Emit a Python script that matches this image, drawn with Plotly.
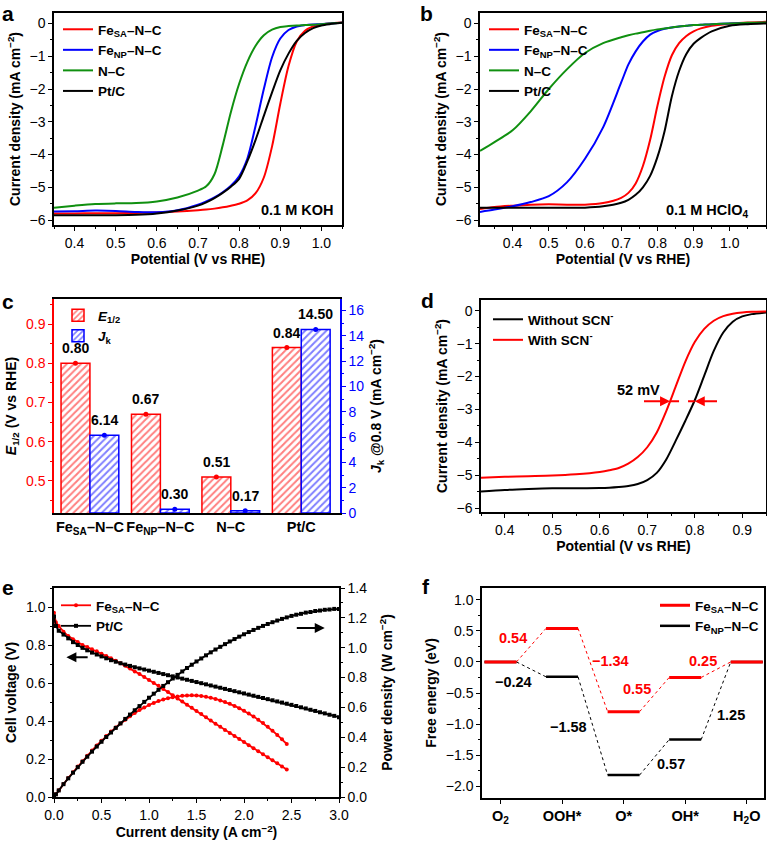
import plotly.graph_objects as go

FONT = "Liberation Sans, Arial, sans-serif"
W, H = 767, 843
RED, BLUE, GREEN, BLACK = "#FF0000", "#0000FF", "#109010", "#000000"

# ---------------- data ----------------
# panel a : ORR polarisation, 0.1 M KOH
a_potential = [0.35, 0.40, 0.45, 0.50, 0.55, 0.60, 0.65, 0.70, 0.72, 0.74, 0.76, 0.78, 0.80,
               0.82, 0.84, 0.86, 0.88, 0.90, 0.92, 0.94, 0.96, 0.98, 1.00, 1.02, 1.05]
a_fesa = [-5.80, -5.80, -5.79, -5.79, -5.78, -5.77, -5.74, -5.70, -5.68, -5.65, -5.61, -5.56, -5.50,
          -5.40, -5.18, -4.70, -3.75, -2.45, -1.30, -0.55, -0.22, -0.09, -0.03, 0.00, 0.03]
a_fenp = [-5.74, -5.73, -5.71, -5.72, -5.75, -5.76, -5.70, -5.53, -5.43, -5.31, -5.15, -4.95, -4.66,
          -4.12, -3.12, -2.00, -1.03, -0.46, -0.20, -0.09, -0.05, -0.03, -0.02, 0.00, 0.02]
a_nc = [-5.62, -5.56, -5.51, -5.49, -5.48, -5.43, -5.31, -5.10, -4.97, -4.60, -3.72, -2.70, -1.84,
        -1.17, -0.68, -0.36, -0.19, -0.11, -0.08, -0.06, -0.05, -0.04, -0.02, 0.00, 0.02]
a_ptc = [-5.85, -5.85, -5.85, -5.85, -5.84, -5.80, -5.71, -5.56, -5.46, -5.33, -5.17, -4.98, -4.74,
         -4.20, -3.55, -2.82, -2.10, -1.43, -0.92, -0.53, -0.29, -0.14, -0.06, -0.02, 0.02]
a_ticks = [0.4, 0.5, 0.6, 0.7, 0.8, 0.9, 1.0]

# panel b : ORR polarisation, 0.1 M HClO4
b_potential = [0.31, 0.35, 0.40, 0.45, 0.50, 0.55, 0.60, 0.65, 0.70, 0.72, 0.74, 0.76, 0.78, 0.80,
               0.82, 0.84, 0.86, 0.88, 0.90, 0.92, 0.95, 1.00, 1.05, 1.10]
b_fesa = [-5.66, -5.60, -5.56, -5.53, -5.52, -5.53, -5.53, -5.48, -5.32, -5.17, -4.88, -4.35, -3.55, -2.52,
          -1.62, -0.97, -0.60, -0.38, -0.24, -0.15, -0.07, -0.01, 0.03, 0.05]
b_fenp = [-5.75, -5.68, -5.58, -5.45, -5.27, -4.85, -4.13, -3.17, -1.80, -1.25, -0.85, -0.55, -0.34, -0.23,
          -0.16, -0.12, -0.09, -0.07, -0.05, -0.04, -0.02, 0.00, 0.01, 0.02]
b_nc = [-3.89, -3.62, -3.26, -2.68, -2.00, -1.40, -0.90, -0.60, -0.42, -0.36, -0.31, -0.27, -0.22, -0.18,
        -0.15, -0.12, -0.09, -0.07, -0.05, -0.04, -0.02, 0.00, 0.02, 0.03]
b_ptc = [-5.62, -5.62, -5.62, -5.62, -5.62, -5.62, -5.62, -5.58, -5.47, -5.38, -5.23, -5.00, -4.65, -4.08,
         -3.28, -2.22, -1.45, -0.93, -0.62, -0.44, -0.24, -0.07, -0.02, 0.00]
b_ticks = [0.4, 0.5, 0.6, 0.7, 0.8, 0.9, 1.0]

# panel c : half-wave potentials and kinetic current densities
c_categories = ["<b>Fe<sub>SA</sub>–N–C</b>", "<b>Fe<sub>NP</sub>–N–C</b>", "<b>N–C</b>", "<b>Pt/C</b>"]
c_e_half = [0.80, 0.67, 0.51, 0.84]
c_jk = [6.14, 0.30, 0.17, 14.50]
c_e_labels = ["0.80", "0.67", "0.51", "0.84"]
c_jk_labels = ["6.14", "0.30", "0.17", "14.50"]

# panel d : SCN- poisoning
d_potential = [0.35, 0.40, 0.45, 0.50, 0.55, 0.60, 0.62, 0.64, 0.66, 0.68, 0.70, 0.72, 0.74, 0.76,
               0.78, 0.80, 0.82, 0.84, 0.86, 0.88, 0.90, 0.92, 0.95]
d_without = [-5.50, -5.45, -5.42, -5.40, -5.40, -5.39, -5.38, -5.36, -5.33, -5.27, -5.15, -4.93, -4.52, -3.95,
             -3.35, -2.72, -1.97, -1.22, -0.66, -0.33, -0.17, -0.10, -0.05]
d_with = [-5.08, -5.05, -5.03, -5.01, -4.97, -4.90, -4.85, -4.78, -4.65, -4.45, -4.15, -3.70, -3.05, -2.30,
          -1.55, -0.95, -0.55, -0.30, -0.16, -0.09, -0.05, -0.03, -0.02]
d_half_wave = [0.748, 0.800]     # with / without SCN-
d_marker_level = -2.75

# panel e : fuel-cell polarisation and power density
e_current_sa = [0, 0.02, 0.05, 0.10, 0.15, 0.20, 0.25, 0.30, 0.35, 0.40, 0.45, 0.50, 0.55, 0.60, 0.65,
                0.70, 0.75, 0.80, 0.85, 0.90, 0.95, 1.00, 1.05, 1.10, 1.15, 1.20, 1.25, 1.30, 1.35, 1.40,
                1.45, 1.50, 1.55, 1.60, 1.65, 1.70, 1.75, 1.80, 1.85, 1.90, 1.95, 2.00, 2.05, 2.10, 2.15,
                2.20, 2.25, 2.30, 2.35, 2.40, 2.45]
e_voltage_sa = [0.97, 0.92, 0.90, 0.87, 0.847, 0.83, 0.816, 0.80, 0.789, 0.778, 0.767, 0.754, 0.742, 0.73,
                0.717, 0.704, 0.691, 0.676, 0.661, 0.647, 0.632, 0.616, 0.60, 0.585, 0.568, 0.552, 0.535,
                0.518, 0.502, 0.486, 0.47, 0.453, 0.437, 0.42, 0.403, 0.386, 0.37, 0.353, 0.337, 0.321,
                0.305, 0.289, 0.273, 0.257, 0.241, 0.225, 0.209, 0.193, 0.177, 0.161, 0.145]
e_power_sa = [0, 0.018, 0.045, 0.087, 0.127, 0.166, 0.204, 0.240, 0.276, 0.311, 0.345, 0.377, 0.408, 0.438,
              0.466, 0.493, 0.518, 0.541, 0.562, 0.582, 0.600, 0.616, 0.630, 0.643, 0.653, 0.662, 0.669,
              0.674, 0.678, 0.680, 0.681, 0.680, 0.677, 0.672, 0.665, 0.657, 0.647, 0.636, 0.624, 0.610,
              0.595, 0.578, 0.559, 0.540, 0.518, 0.495, 0.470, 0.444, 0.416, 0.387, 0.355]
e_current_pt = [0, 0.02, 0.05, 0.10, 0.15, 0.20, 0.25, 0.30, 0.35, 0.40, 0.45, 0.50, 0.55, 0.60, 0.65,
                0.70, 0.75, 0.80, 0.85, 0.90, 0.95, 1.00, 1.05, 1.10, 1.15, 1.20, 1.25, 1.30, 1.35, 1.40,
                1.45, 1.50, 1.55, 1.60, 1.65, 1.70, 1.75, 1.80, 1.85, 1.90, 1.95, 2.00, 2.05, 2.10, 2.15,
                2.20, 2.25, 2.30, 2.35, 2.40, 2.45, 2.50, 2.55, 2.60, 2.65, 2.70, 2.75, 2.80, 2.85, 2.90,
                2.95, 3.00]
e_voltage_pt = [0.95, 0.90, 0.875, 0.855, 0.835, 0.815, 0.80, 0.785, 0.772, 0.76, 0.75, 0.74, 0.73, 0.72,
                0.712, 0.704, 0.697, 0.69, 0.683, 0.677, 0.671, 0.665, 0.659, 0.653, 0.647, 0.641, 0.635,
                0.629, 0.623, 0.617, 0.611, 0.605, 0.599, 0.593, 0.587, 0.581, 0.575, 0.569, 0.563, 0.557,
                0.551, 0.545, 0.539, 0.533, 0.527, 0.521, 0.515, 0.509, 0.503, 0.497, 0.491, 0.485, 0.479,
                0.472, 0.466, 0.459, 0.453, 0.446, 0.440, 0.433, 0.427, 0.420]
e_power_pt = [0, 0.018, 0.044, 0.086, 0.125, 0.163, 0.200, 0.236, 0.270, 0.304, 0.338, 0.370, 0.402, 0.432,
              0.463, 0.493, 0.523, 0.552, 0.581, 0.609, 0.637, 0.665, 0.692, 0.718, 0.744, 0.769, 0.794,
              0.818, 0.841, 0.864, 0.886, 0.908, 0.928, 0.949, 0.969, 0.988, 1.006, 1.024, 1.042, 1.058,
              1.074, 1.090, 1.105, 1.119, 1.133, 1.146, 1.159, 1.171, 1.182, 1.193, 1.203, 1.213, 1.221,
              1.227, 1.235, 1.239, 1.246, 1.249, 1.254, 1.256, 1.260, 1.260]

# panel f : free-energy diagram
f_steps = ["<b>O<sub>2</sub></b>", "<b>OOH*</b>", "<b>O*</b>", "<b>OH*</b>", "<b>H<sub>2</sub>O</b>"]
f_fesa = [0.0, 0.54, -0.80, -0.25, 0.0]
f_fenp = [0.0, -0.24, -1.82, -1.25, 0.0]
f_fesa_dg = ["0.54", "−1.34", "0.55", "0.25"]
f_fenp_dg = ["−0.24", "−1.58", "0.57", "1.25"]

# ---------------- helpers ----------------
def dx(l, r):
    return [l / W, r / W]


def dy(t, b):
    return [1 - b / H, 1 - t / H]


TS = 14          # tick label size
TTS = 14         # axis title size
TICKFONT = dict(family=FONT, size=TS, color="black")
TITLEFONT = dict(family=FONT, size=TTS, color="black")


def axis(**kw):
    base = dict(showline=True, linecolor="black", linewidth=1.5, mirror=True, automargin=False,
                ticks="outside", ticklen=4, tickwidth=1.2, tickcolor="black",
                showgrid=False, zeroline=False, tickfont=TICKFONT, title_font=TITLEFONT)
    base.update(kw)
    return base


def minor(dt, col="black"):
    return dict(ticks="outside", ticklen=2, dtick=dt, tickcolor=col)


fig = go.Figure()

# ---- a ----
for name, ys, col in [("<b>Fe<sub>SA</sub>–N–C</b>", a_fesa, RED), ("<b>Fe<sub>NP</sub>–N–C</b>", a_fenp, BLUE),
                      ("<b>N–C</b>", a_nc, GREEN), ("<b>Pt/C</b>", a_ptc, BLACK)]:
    fig.add_trace(go.Scatter(x=a_potential, y=ys, name=name, mode="lines", xaxis="x", yaxis="y",
                             line=dict(color=col, width=2, shape="spline", smoothing=0.8), legend="legend"))
# ---- b ----
for name, ys, col in [("<b>Fe<sub>SA</sub>–N–C</b>", b_fesa, RED), ("<b>Fe<sub>NP</sub>–N–C</b>", b_fenp, BLUE),
                      ("<b>N–C</b>", b_nc, GREEN), ("<b>Pt/C</b>", b_ptc, BLACK)]:
    fig.add_trace(go.Scatter(x=b_potential, y=ys, name=name, mode="lines", xaxis="x2", yaxis="y2",
                             line=dict(color=col, width=2, shape="spline", smoothing=0.8), legend="legend2"))
# ---- c ----
cx = list(range(len(c_categories)))
fig.add_trace(go.Bar(x=cx, y=c_e_half, offset=-0.41, width=0.41, xaxis="x3", yaxis="y3",
                     name="<b><i>E</i><sub>1/2</sub></b>", legend="legend3",
                     marker=dict(color="white", line=dict(color=RED, width=1.5),
                                 pattern=dict(shape="/", fgcolor=RED, bgcolor="white", size=5,
                                              solidity=0.4, fillmode="overlay"))))
fig.add_trace(go.Bar(x=cx, y=c_jk, offset=0, width=0.41, xaxis="x3", yaxis="y4",
                     name="<b><i>J</i><sub>k</sub></b>", legend="legend3",
                     marker=dict(color="white", line=dict(color=BLUE, width=1.5),
                                 pattern=dict(shape="/", fgcolor=BLUE, bgcolor="white", size=5,
                                              solidity=0.4, fillmode="overlay"))))
fig.add_trace(go.Scatter(x=[i - 0.205 for i in cx], y=c_e_half, mode="markers", xaxis="x3", yaxis="y3",
                         marker=dict(color=RED, size=5), showlegend=False))
fig.add_trace(go.Scatter(x=[i + 0.205 for i in cx], y=c_jk, mode="markers", xaxis="x3", yaxis="y4",
                         marker=dict(color=BLUE, size=5), showlegend=False))
# ---- d ----
fig.add_trace(go.Scatter(x=d_potential, y=d_without, name="<b>Without SCN<sup>-</sup></b>", mode="lines",
                         xaxis="x4", yaxis="y5", legend="legend4",
                         line=dict(color=BLACK, width=2, shape="spline", smoothing=0.8)))
fig.add_trace(go.Scatter(x=d_potential, y=d_with, name="<b>With SCN<sup>-</sup></b>", mode="lines",
                         xaxis="x4", yaxis="y5", legend="legend4",
                         line=dict(color=RED, width=2, shape="spline", smoothing=0.8)))
# ---- e ----
fig.add_trace(go.Scatter(x=e_current_sa, y=e_voltage_sa, name="<b>Fe<sub>SA</sub>–N–C</b>", mode="lines+markers",
                         xaxis="x5", yaxis="y6", legend="legend5",
                         line=dict(color=RED, width=1.8), marker=dict(symbol="circle", size=4, color=RED)))
fig.add_trace(go.Scatter(x=e_current_pt, y=e_voltage_pt, name="<b>Pt/C</b>", mode="lines+markers",
                         xaxis="x5", yaxis="y6", legend="legend5",
                         line=dict(color=BLACK, width=1.8), marker=dict(symbol="square", size=4, color=BLACK)))
fig.add_trace(go.Scatter(x=e_current_sa, y=e_power_sa, mode="lines+markers", xaxis="x5", yaxis="y7",
                         showlegend=False, line=dict(color=RED, width=1.8),
                         marker=dict(symbol="circle", size=4, color=RED)))
fig.add_trace(go.Scatter(x=e_current_pt, y=e_power_pt, mode="lines+markers", xaxis="x5", yaxis="y7",
                         showlegend=False, line=dict(color=BLACK, width=1.8),
                         marker=dict(symbol="square", size=4, color=BLACK)))
# ---- f ----
HW = 0.26


def levels(vals):
    xs, ys = [], []
    for i, v in enumerate(vals):
        xs += [i - HW, i + HW, None]
        ys += [v, v, None]
    return xs, ys


def links(vals):
    xs, ys = [], []
    for i in range(len(vals) - 1):
        xs += [i + HW, i + 1 - HW, None]
        ys += [vals[i], vals[i + 1], None]
    return xs, ys


lx, ly = links(f_fenp)
fig.add_trace(go.Scatter(x=lx, y=ly, mode="lines", xaxis="x6", yaxis="y8", showlegend=False,
                         line=dict(color=BLACK, width=1, dash="dot")))
lx, ly = links(f_fesa)
fig.add_trace(go.Scatter(x=lx, y=ly, mode="lines", xaxis="x6", yaxis="y8", showlegend=False,
                         line=dict(color=RED, width=1, dash="dot")))
lx, ly = levels(f_fenp)
fig.add_trace(go.Scatter(x=lx, y=ly, mode="lines", xaxis="x6", yaxis="y8", name="<b>Fe<sub>NP</sub>–N–C</b>",
                         legend="legend6", legendrank=2, line=dict(color=BLACK, width=2.5)))
lx, ly = levels(f_fesa)
fig.add_trace(go.Scatter(x=lx, y=ly, mode="lines", xaxis="x6", yaxis="y8", name="<b>Fe<sub>SA</sub>–N–C</b>",
                         legend="legend6", legendrank=1, line=dict(color=RED, width=3)))

# ---------------- layout ----------------
ytitle_j = "<b>Current density (mA cm<sup>−2</sup>)</b>"
xtitle_p = "<b>Potential (V vs RHE)</b>"

layout = dict(
    width=W, height=H, margin=dict(l=0, r=0, t=0, b=0, autoexpand=False),
    paper_bgcolor="white", plot_bgcolor="white", barmode="overlay",
    font=dict(family=FONT, size=12, color="black"),
    xaxis=axis(domain=dx(54, 342), anchor="y", range=[0.35, 1.05], tickvals=a_ticks, tickformat=".1f",
               minor=minor(0.05), title=dict(text=xtitle_p, standoff=5)),
    yaxis=axis(domain=dy(13, 225), anchor="x", range=[-6.15, 0.32], dtick=1,
               minor=minor(0.5), title=dict(text=ytitle_j, standoff=6)),
    xaxis2=axis(domain=dx(480, 766), anchor="y2", range=[0.31, 1.10], tickvals=b_ticks, tickformat=".1f",
                minor=minor(0.05), title=dict(text=xtitle_p, standoff=5)),
    yaxis2=axis(domain=dy(13, 225), anchor="x2", range=[-6.15, 0.32], dtick=1,
                minor=minor(0.5), title=dict(text=ytitle_j, standoff=6)),
    xaxis3=axis(domain=dx(54, 340), anchor="y3", range=[-0.51, 3.55], tickvals=cx, ticktext=c_categories,
                ticks="", tickangle=0, tickfont=dict(family=FONT, size=14.5, color="black")),
    yaxis3=axis(domain=dy(299, 513), anchor="x3", range=[0.418, 0.964], dtick=0.1, tickformat=".1f",
                mirror=False, linecolor=RED, tickcolor=RED, tickfont=dict(family=FONT, size=TS, color=RED),
                minor=minor(0.05, RED),
                title=dict(text="<b><i>E</i><sub>1/2</sub> (V vs RHE)</b>", standoff=6)),
    yaxis4=axis(overlaying="y3", side="right", anchor="x3", range=[0, 16.9], dtick=2,
                mirror=False, linecolor=BLUE, tickcolor=BLUE, tickfont=dict(family=FONT, size=TS, color=BLUE),
                minor=minor(1, BLUE),
                title=dict(text="<b><i>J</i><sub>k</sub> @0.8 V (mA cm<sup>−2</sup>)</b>", standoff=8)),
    xaxis4=axis(domain=dx(481, 766), anchor="y5", range=[0.35, 0.95], tick0=0, dtick=0.1, tickformat=".1f",
                minor=minor(0.05), title=dict(text=xtitle_p, standoff=5)),
    yaxis5=axis(domain=dy(300, 512), anchor="x4", range=[-6.12, 0.33], dtick=1,
                minor=minor(0.5), title=dict(text=ytitle_j, standoff=6)),
    xaxis5=axis(domain=dx(54, 339), anchor="y6", range=[0, 3.0], dtick=0.5, tickformat=".1f",
                minor=minor(0.25),
                title=dict(text="<b>Current density (A cm<sup>−2</sup>)</b>", standoff=5)),
    yaxis6=axis(domain=dy(588, 797), anchor="x5", range=[0, 1.1], dtick=0.2, tickformat=".1f",
                mirror=False, minor=minor(0.1),
                title=dict(text="<b>Cell voltage (V)</b>", standoff=6)),
    yaxis7=axis(overlaying="y6", side="right", anchor="x5", range=[0, 1.4], dtick=0.2, tickformat=".1f",
                mirror=False, minor=minor(0.1),
                title=dict(text="<b>Power density (W cm<sup>−2</sup>)</b>", standoff=16)),
    xaxis6=axis(domain=dx(482, 764), anchor="y8", range=[-0.3, 4.28], tickvals=list(range(5)),
                ticktext=f_steps, tickfont=dict(family=FONT, size=14.5, color="black")),
    yaxis8=axis(domain=dy(588, 798), anchor="x6", range=[-2.19, 1.19], dtick=0.5, tickformat=".1f",
                minor=minor(0.25), title=dict(text="<b>Free energy (eV)</b>", standoff=6)),
)

leg = dict(bgcolor="rgba(0,0,0,0)", font=dict(family=FONT, size=13.5, color="black"),
           xanchor="left", yanchor="top", tracegroupgap=0, itemwidth=30)
layout["legend"] = dict(leg, x=58 / W, y=1 - 14 / H)
layout["legend2"] = dict(leg, x=484 / W, y=1 - 14 / H)
layout["legend3"] = dict(leg, x=58 / W, y=1 - 300 / H)
layout["legend4"] = dict(leg, x=488 / W, y=1 - 304 / H)
layout["legend5"] = dict(leg, x=56 / W, y=1 - 590 / H)
layout["legend6"] = dict(leg, x=764 / W, y=1 - 590 / H, xanchor="right")
fig.update_layout(**layout)

# ---------------- annotations ----------------
ann = []
# panel letters: (left, top) of the text box in pixels
for lab, (px, py) in {"a": (0, 0), "b": (418, 0), "c": (0, 288), "d": (419, 287),
                      "e": (0, 574), "f": (420, 573)}.items():
    ann.append(dict(text=f"<b>{lab}</b>", x=px / W, y=1 - py / H, xref="paper", yref="paper",
                    xanchor="left", yanchor="top",
                    showarrow=False, font=dict(family=FONT, size=21, color="black")))
ann.append(dict(text="<b>0.1 M KOH</b>", x=297 / W, y=1 - 210 / H, xref="paper", yref="paper",
                xanchor="center", yanchor="middle", showarrow=False, font=dict(family=FONT, size=14.5)))
ann.append(dict(text="<b>0.1 M HClO<sub>4</sub></b>", x=707 / W, y=1 - 211 / H, xref="paper", yref="paper",
                xanchor="center", yanchor="middle", showarrow=False, font=dict(family=FONT, size=14.5)))
for i in cx:
    ann.append(dict(text=f"<b>{c_e_labels[i]}</b>", x=i - 0.205, y=c_e_half[i], xref="x3", yref="y3",
                    yanchor="bottom", yshift=5, showarrow=False, font=dict(family=FONT, size=14)))
    ann.append(dict(text=f"<b>{c_jk_labels[i]}</b>", x=i + 0.205, y=c_jk[i], xref="x3", yref="y4",
                    yanchor="bottom", yshift=5, showarrow=False, font=dict(family=FONT, size=14)))
# d : 52 mV shift arrows
ann.append(dict(text="<b>52 mV</b>", x=0.682, y=-2.42, xref="x4", yref="y5", showarrow=False,
                font=dict(family=FONT, size=14.5)))
ann.append(dict(text="", x=d_half_wave[0], y=d_marker_level, ax=0.69, ay=d_marker_level, xref="x4", yref="y5",
                axref="x4", ayref="y5", showarrow=True, arrowhead=2, arrowsize=1, arrowwidth=2, arrowcolor=RED))
ann.append(dict(text="", x=d_half_wave[1], y=d_marker_level, ax=0.85, ay=d_marker_level, xref="x4", yref="y5",
                axref="x4", ayref="y5", showarrow=True, arrowhead=2, arrowsize=1, arrowwidth=2, arrowcolor=RED))
# e : axis arrows
ann.append(dict(text="", x=0.13, y=0.735, ax=0.37, ay=0.735, xref="x5", yref="y6", axref="x5", ayref="y6",
                showarrow=True, arrowhead=2, arrowsize=1, arrowwidth=2, arrowcolor=BLACK))
ann.append(dict(text="", x=2.85, y=0.89, ax=2.54, ay=0.89, xref="x5", yref="y6", axref="x5", ayref="y6",
                showarrow=True, arrowhead=2, arrowsize=1, arrowwidth=2, arrowcolor=BLACK))
# f : step energies
f_sa_pos = [(0.21, 0.38), (1.78, 0.02), (2.21, -0.43), (3.29, 0.02)]
f_np_pos = [(0.21, -0.32), (1.10, -1.05), (2.77, -1.64), (3.74, -0.86)]
for t, (x, y) in zip(f_fesa_dg, f_sa_pos):
    ann.append(dict(text=f"<b>{t}</b>", x=x, y=y, xref="x6", yref="y8", showarrow=False,
                    font=dict(family=FONT, size=14.5, color=RED)))
for t, (x, y) in zip(f_fenp_dg, f_np_pos):
    ann.append(dict(text=f"<b>{t}</b>", x=x, y=y, xref="x6", yref="y8", showarrow=False,
                    font=dict(family=FONT, size=14.5, color=BLACK)))
fig.update_layout(annotations=ann)

fig.add_shape(type="line", x0=d_half_wave[0], x1=d_half_wave[1], y0=d_marker_level, y1=d_marker_level,
              xref="x4", yref="y5", line=dict(color=RED, width=2, dash="dash"))

# remove the browser's default 8 px page margin so the figure sits at the window origin
fig.write_html("out.html", config={"displayModeBar": False},
               post_script="document.body.style.margin='0px';")
